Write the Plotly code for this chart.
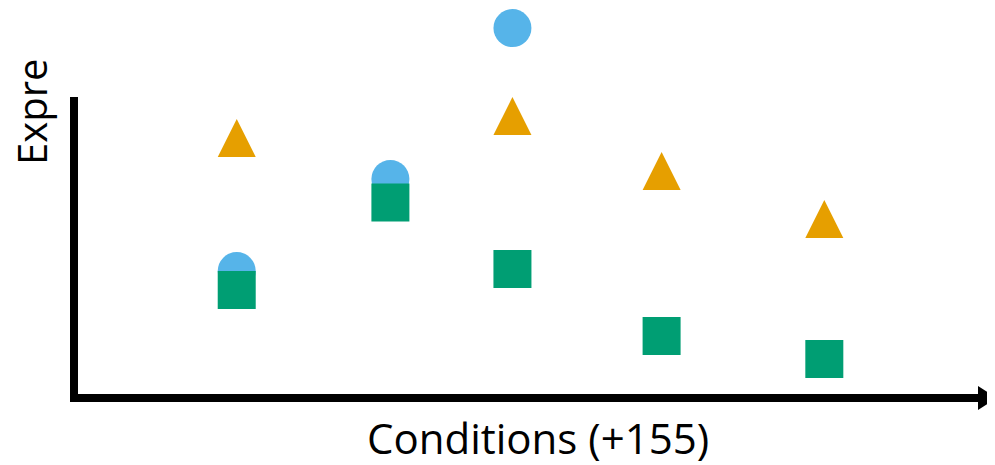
import plotly.graph_objects as go

# Data
conditions = [1.8, 3.5, 4.85, 6.5, 8.3]
circle_vals = [4.23, 7.3, 12.33, None, None]
triangle_vals = [9.3, None, 10.03, 8.2, 6.6]
square_vals = [3.6, 6.52, 4.3, 2.07, 1.3]

BLUE = "#56B4E9"
ORANGE = "#E69F00"
GREEN = "#009E73"
MS = 38

fig = go.Figure()
fig.add_trace(go.Scatter(x=conditions, y=circle_vals, mode="markers",
                         marker=dict(symbol="circle", size=MS, color=BLUE, line=dict(width=0)),
                         cliponaxis=False, showlegend=False))
fig.add_trace(go.Scatter(x=conditions, y=triangle_vals, mode="markers",
                         marker=dict(symbol="arrow-up", size=MS, color=ORANGE, line=dict(width=0)),
                         cliponaxis=False, showlegend=False))
fig.add_trace(go.Scatter(x=conditions, y=square_vals, mode="markers",
                         marker=dict(symbol="square", size=MS, color=GREEN, line=dict(width=0)),
                         cliponaxis=False, showlegend=False))

# page has an 8px body margin, so the figure is drawn 8px smaller
OFF = 8
W, H = 995 - OFF, 465 - OFF
PL, PR, PT, PB = 74, 978, 8, 398   # plot area in page pixels
L, R, T, B = PL - OFF, 995 - PR, PT - OFF, 465 - PB
pw, ph = PR - PL, PB - PT

def px(x):
    return (x - PL) / pw

def py(y):
    return (PB - y) / ph

shapes = [
    # y axis line
    dict(type="line", xref="paper", yref="paper", x0=px(74), x1=px(74), y0=py(402), y1=py(97),
         line=dict(color="black", width=8)),
    # x axis line
    dict(type="line", xref="paper", yref="paper", x0=px(70), x1=px(980), y0=py(398), y1=py(398),
         line=dict(color="black", width=8)),
    # arrow head
    dict(type="path", xref="paper", yref="paper",
         path=f"M {px(978)} {py(386)} L {px(997)} {py(398)} L {px(978)} {py(410)} Z",
         fillcolor="black", line=dict(width=0)),
]

fig.update_layout(
    width=W, height=H,
    margin=dict(l=L, r=R, t=T, b=B),
    paper_bgcolor="white", plot_bgcolor="white",
    xaxis=dict(range=[0, 10], visible=False, showgrid=False, zeroline=False),
    yaxis=dict(range=[0, 13], visible=False, showgrid=False, zeroline=False),
    shapes=shapes,
    annotations=[
        dict(text="Conditions (+155)", xref="paper", yref="paper", x=px(538), y=py(437),
             xanchor="center", yanchor="middle", showarrow=False,
             font=dict(family="Open Sans", size=42, color="black")),
        dict(text="Expre", xref="paper", yref="paper", x=px(31), y=py(167),
             xanchor="center", yanchor="bottom", textangle=-90, showarrow=False,
             font=dict(family="Open Sans", size=40, color="black")),
    ],
)

fig.write_html("out.html")
